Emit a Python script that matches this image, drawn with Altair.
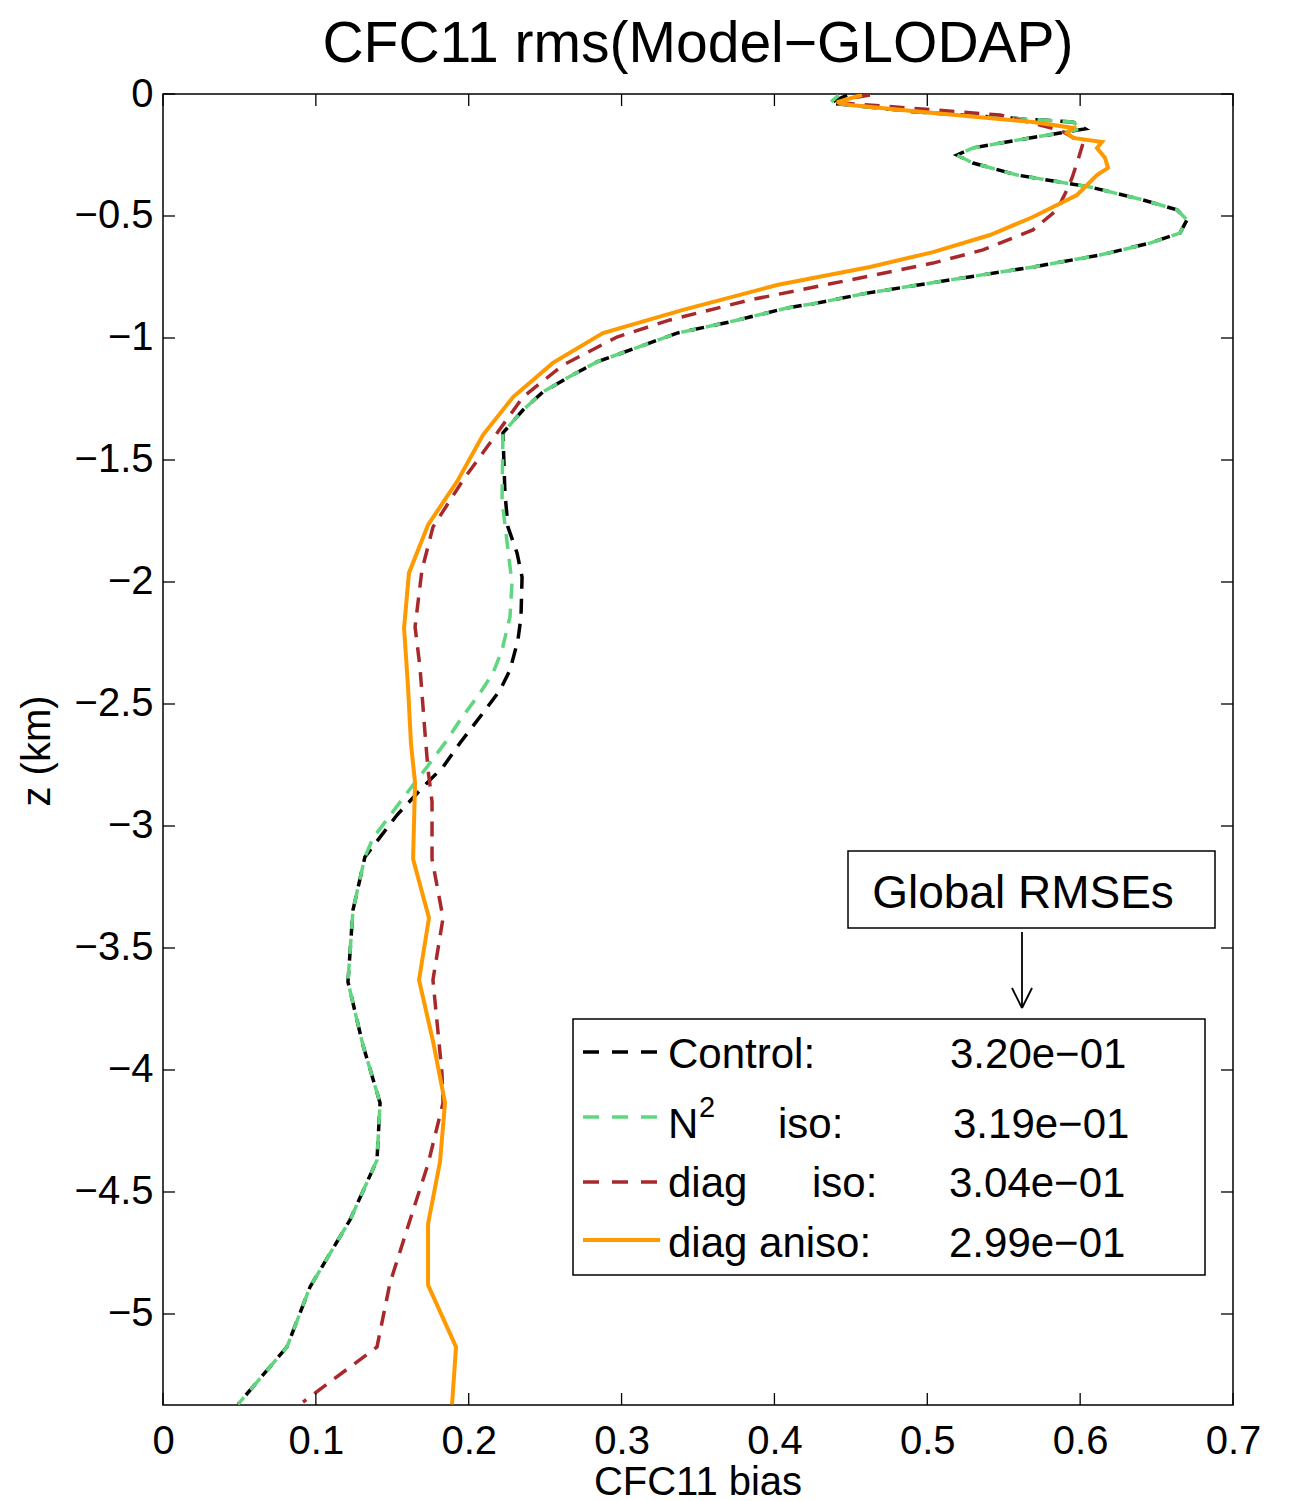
import altair as alt
import pandas as pd

# ---------------- data ----------------
control_x = [0.4475, 0.4363, 0.4933, 0.5953, 0.6032, 0.5868, 0.5587, 0.5299, 0.5194, 0.5299,
             0.5587, 0.6064, 0.6411, 0.6634, 0.6699, 0.6653, 0.6457, 0.6130, 0.5691, 0.5148,
             0.4606, 0.4278, 0.4082, 0.3709, 0.3363, 0.3186, 0.2839, 0.2643, 0.2486, 0.2355,
             0.2224, 0.2237, 0.2257, 0.2316, 0.2349, 0.2342, 0.2322, 0.2270, 0.2205, 0.2093,
             0.1943, 0.1832, 0.1701, 0.1531, 0.1321, 0.1243, 0.1210, 0.1308, 0.1420, 0.1400,
             0.1223, 0.0962, 0.0811, 0.0491]
control_z = [-0.005, -0.037, -0.074, -0.115, -0.143, -0.160, -0.189, -0.221, -0.250, -0.283,
             -0.332, -0.381, -0.434, -0.475, -0.516, -0.570, -0.611, -0.660, -0.709, -0.762,
             -0.816, -0.857, -0.877, -0.934, -0.980, -1.020, -1.098, -1.164, -1.221, -1.295,
             -1.389, -1.635, -1.775, -1.881, -1.980, -2.143, -2.238, -2.361, -2.443, -2.537,
             -2.660, -2.758, -2.840, -2.955, -3.127, -3.344, -3.639, -3.898, -4.135, -4.369,
             -4.615, -4.889, -5.135, -5.370]

n2_x = [0.4420, 0.4363, 0.4933, 0.5953, 0.6010, 0.5868, 0.5587, 0.5299, 0.5194, 0.5299,
        0.5587, 0.6064, 0.6411, 0.6634, 0.6699, 0.6653, 0.6457, 0.6130, 0.5691, 0.5148,
        0.4606, 0.4278, 0.4082, 0.3709, 0.3363, 0.3186, 0.2839, 0.2643, 0.2486, 0.2355,
        0.2224, 0.2218, 0.2257, 0.2283, 0.2270, 0.2218, 0.2159, 0.2074, 0.1943, 0.1858,
        0.1727, 0.1596, 0.1374, 0.1321, 0.1243, 0.1210, 0.1308, 0.1420, 0.1400, 0.1223,
        0.0962, 0.0811, 0.0491]
n2_z = [-0.005, -0.037, -0.074, -0.115, -0.143, -0.160, -0.189, -0.221, -0.250, -0.283,
        -0.332, -0.381, -0.434, -0.475, -0.516, -0.570, -0.611, -0.660, -0.709, -0.762,
        -0.816, -0.857, -0.877, -0.934, -0.980, -1.020, -1.098, -1.164, -1.221, -1.295,
        -1.389, -1.664, -1.869, -2.004, -2.143, -2.279, -2.373, -2.455, -2.566, -2.648,
        -2.758, -2.865, -3.049, -3.127, -3.344, -3.639, -3.898, -4.135, -4.369, -4.615,
        -4.889, -5.135, -5.370]

diag_iso_x = [0.4625, 0.4514, 0.4449, 0.5476, 0.5868, 0.6019, 0.5986, 0.5947, 0.5914, 0.5849,
              0.5691, 0.5364, 0.5037, 0.4494, 0.3840, 0.3317, 0.2970, 0.2617, 0.2355, 0.2120,
              0.1963, 0.1766, 0.1694, 0.1649, 0.1681, 0.1714, 0.1734, 0.1760, 0.1760, 0.1832,
              0.1766, 0.1825, 0.1832, 0.1734, 0.1616, 0.1485, 0.1400, 0.0916]
diag_iso_z = [-0.004, -0.016, -0.037, -0.086, -0.148, -0.201, -0.270, -0.344, -0.393, -0.475,
              -0.557, -0.639, -0.693, -0.762, -0.844, -0.926, -0.996, -1.111, -1.242, -1.447,
              -1.582, -1.775, -1.951, -2.184, -2.348, -2.619, -2.770, -2.900, -3.135, -3.377,
              -3.631, -4.012, -4.135, -4.385, -4.615, -4.873, -5.135, -5.361]

diag_aniso_x = [0.4573, 0.4409, 0.4494, 0.4972, 0.5691, 0.5953, 0.5914, 0.5953, 0.6143, 0.6110,
                0.6163, 0.6182, 0.6110, 0.6045, 0.5979, 0.5691, 0.5410, 0.5037, 0.4625, 0.4017,
                0.3402, 0.2878, 0.2551, 0.2290, 0.2093, 0.1930, 0.1734, 0.1609, 0.1577, 0.1603,
                0.1622, 0.1649, 0.1636, 0.1740, 0.1675, 0.1766, 0.1845, 0.1812, 0.1734, 0.1734,
                0.1917, 0.1891]
diag_aniso_z = [-0.004, -0.033, -0.045, -0.074, -0.115, -0.139, -0.160, -0.180, -0.197, -0.221,
                -0.262, -0.303, -0.332, -0.373, -0.414, -0.504, -0.578, -0.648, -0.709, -0.783,
                -0.885, -0.980, -1.102, -1.242, -1.398, -1.582, -1.766, -1.963, -2.189, -2.430,
                -2.660, -2.824, -3.135, -3.377, -3.631, -3.881, -4.135, -4.377, -4.631, -4.881,
                -5.135, -5.370]

x_ticks = [0, 0.1, 0.2, 0.3, 0.4, 0.5, 0.6, 0.7]
z_ticks = [0, -0.5, -1, -1.5, -2, -2.5, -3, -3.5, -4, -4.5, -5]

legend_names = ["Control:", "N", "diag", "diag aniso:"]
legend_values = ["3.20e\u221201", "3.19e\u221201", "3.04e\u221201", "2.99e\u221201"]

# ---------------- styling ----------------
W, H = 1070, 1311
FONT = "Liberation Sans"
C_BLACK = "#000000"
C_GREEN = "#5fd67f"
C_RED = "#a8292b"
C_ORANGE = "#ff9900"
DASH = [15, 10]

xs = alt.Scale(domain=[0, 0.7], nice=False, zero=False)
ys = alt.Scale(domain=[-5.373, 0], nice=False, zero=False)


def series_df(xv, zv):
    return pd.DataFrame({"x": xv, "z": zv, "idx": list(range(len(xv)))})


def line_layer(xv, zv, color, dash=None, offset=0, width=3.5):
    kw = dict(color=color, strokeWidth=width, clip=True)
    if dash:
        kw["strokeDash"] = dash
        kw["strokeDashOffset"] = offset
    return alt.Chart(series_df(xv, zv)).mark_line(**kw).encode(
        x=alt.X("x:Q", scale=xs,
                axis=alt.Axis(values=x_ticks, format="~g", title=None, ticks=False, domain=False,
                              grid=False, labelFontSize=40, labelFont=FONT, labelColor="black",
                              labelPadding=16, labelFlush=False)),
        y=alt.Y("z:Q", scale=ys,
                axis=alt.Axis(values=z_ticks, format="~g", title=None, ticks=False, domain=False,
                              grid=False, labelFontSize=40, labelFont=FONT, labelColor="black",
                              labelPadding=10, labelFlush=False)),
        order=alt.Order("idx:Q"),
    )


lines = [
    line_layer(control_x, control_z, C_BLACK, DASH, 0),
    line_layer(n2_x, n2_z, C_GREEN, DASH, 5),
    line_layer(diag_iso_x, diag_iso_z, C_RED, DASH, 0),
    line_layer(diag_aniso_x, diag_aniso_z, C_ORANGE, None, 0, 4),
]

# inward ticks on all four sides
xt = pd.DataFrame({"x": x_ticks})
zt = pd.DataFrame({"z": z_ticks})
TL = 12
tick_layers = [
    alt.Chart(xt).mark_rule(color="black", strokeWidth=1.3).encode(
        x=alt.X("x:Q", scale=xs), y=alt.value(0), y2=alt.value(TL)),
    alt.Chart(xt).mark_rule(color="black", strokeWidth=1.3).encode(
        x=alt.X("x:Q", scale=xs), y=alt.value(H), y2=alt.value(H - TL)),
    alt.Chart(zt).mark_rule(color="black", strokeWidth=1.3).encode(
        y=alt.Y("z:Q", scale=ys), x=alt.value(0), x2=alt.value(TL)),
    alt.Chart(zt).mark_rule(color="black", strokeWidth=1.3).encode(
        y=alt.Y("z:Q", scale=ys), x=alt.value(W), x2=alt.value(W - TL)),
]

one = pd.DataFrame({"a": [0]})


def txt(text, x, y, size, align="left", angle=None, baseline="alphabetic"):
    kw = dict(text=text, font=FONT, fontSize=size, align=align, baseline=baseline, color="black")
    if angle is not None:
        kw["angle"] = angle
    return alt.Chart(one).mark_text(**kw).encode(x=alt.value(x), y=alt.value(y))


def rule(x, y, x2=None, y2=None, color="black", width=1.5, dash=None):
    kw = dict(color=color, strokeWidth=width)
    if dash:
        kw["strokeDash"] = dash
    enc = dict(x=alt.value(x), y=alt.value(y))
    if x2 is not None:
        enc["x2"] = alt.value(x2)
    if y2 is not None:
        enc["y2"] = alt.value(y2)
    return alt.Chart(one).mark_rule(**kw).encode(**enc)


def box(x, x2, y, y2):
    return alt.Chart(one).mark_rect(fill="white", stroke="black", strokeWidth=1.5).encode(
        x=alt.value(x), x2=alt.value(x2), y=alt.value(y), y2=alt.value(y2))


# texts: title and axis titles
annot = [
    txt("CFC11 rms(Model\u2212GLODAP)", W / 2, -32, 57, align="center"),
    txt("CFC11 bias", W / 2, 1401, 40, align="center"),
    txt("z (km)", -113, 657, 40, align="center", angle=270),
]

# Global RMSEs box + arrow
annot += [
    box(685, 1052, 757, 834),
    txt("Global RMSEs", 860, 814, 46, align="center"),
    rule(859, 838, y2=914, width=1.8),
    rule(849, 894, x2=859, y2=914, width=1.8),
    rule(869, 894, x2=859, y2=914, width=1.8),
]

# legend
LD = [16, 13]
rows_line_y = [958, 1023, 1088, 1146]
rows_text_y = [974, 1044, 1103, 1163]
annot += [
    box(410, 1042, 925, 1181),
    rule(420, rows_line_y[0], x2=497, color=C_BLACK, width=3.5, dash=LD),
    rule(420, rows_line_y[1], x2=497, color=C_GREEN, width=3.5, dash=LD),
    rule(420, rows_line_y[2], x2=497, color=C_RED, width=3.5, dash=LD),
    rule(420, rows_line_y[3], x2=497, color=C_ORANGE, width=4),
    txt(legend_names[0], 505, rows_text_y[0], 42),
    txt(legend_names[1], 505, rows_text_y[1], 42),
    txt("2", 536, 1023, 29),
    txt("iso:", 615, rows_text_y[1], 42),
    txt(legend_names[2], 505, rows_text_y[2], 42),
    txt("iso:", 649, rows_text_y[2], 42),
    txt(legend_names[3], 505, rows_text_y[3], 42),
    txt(legend_values[0], 787, rows_text_y[0], 42),
    txt(legend_values[1], 790, rows_text_y[1], 42),
    txt(legend_values[2], 786, rows_text_y[2], 42),
    txt(legend_values[3], 786, rows_text_y[3], 42),
]

chart = alt.layer(*lines, *tick_layers, *annot).properties(
    width=W, height=H,
    padding={"left": 163, "top": 94, "right": 60, "bottom": 96},
    autosize=alt.AutoSizeParams(type="none"),
    background="white",
).configure_view(stroke="black", strokeWidth=1.5)

chart.save("out.html", embed_options={"renderer": "svg", "actions": False})
